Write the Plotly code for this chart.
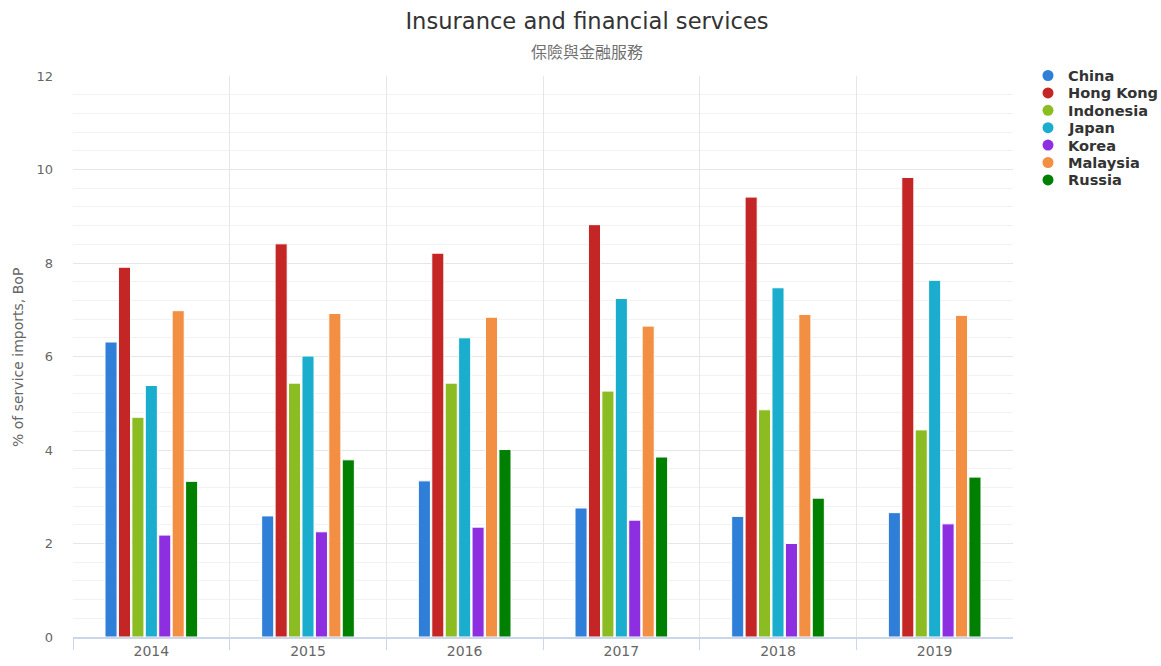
import plotly.graph_objects as go

years = ["2014", "2015", "2016", "2017", "2018", "2019"]
countries = ["China", "Hong Kong", "Indonesia", "Japan", "Korea", "Malaysia", "Russia"]
china = [6.31, 2.59, 3.34, 2.76, 2.58, 2.66]
hong_kong = [7.91, 8.41, 8.21, 8.82, 9.41, 9.83]
indonesia = [4.70, 5.43, 5.43, 5.26, 4.86, 4.43]
japan = [5.38, 6.01, 6.40, 7.24, 7.47, 7.63]
korea = [2.18, 2.25, 2.35, 2.50, 2.00, 2.42]
malaysia = [6.98, 6.92, 6.84, 6.65, 6.90, 6.88]
russia = [3.33, 3.79, 4.01, 3.85, 2.97, 3.42]
colors = ["#2f7ed8", "#c42525", "#8bbc21", "#1aadce", "#8d2ee0", "#f28f43", "#008000"]

series = [china, hong_kong, indonesia, japan, korea, malaysia, russia]

W, H = 1161, 666
font_family = "DejaVu Sans, Verdana, sans-serif"
cjk_family = "Noto Sans CJK TC, Noto Sans CJK SC, sans-serif"

def px(x):
    return x / W

def py(y):
    return (H - y) / H

fig = go.Figure()
for name, vals, col in zip(countries, series, colors):
    fig.add_trace(go.Bar(
        x=years, y=vals, name=name,
        marker=dict(color=col, line=dict(color="white", width=1)),
        showlegend=False,
    ))

# manual legend (circle markers + bold labels)
shapes = []
annotations = []
for i, (name, col) in enumerate(zip(countries, colors)):
    yc = 75.5 + 17.4 * i
    shapes.append(dict(
        type="circle", xref="paper", yref="paper",
        xsizemode="pixel", ysizemode="pixel",
        xanchor=px(1048), yanchor=py(yc),
        x0=-5.5, x1=5.5, y0=-5.5, y1=5.5,
        fillcolor=col, line=dict(color=col, width=0),
    ))
    annotations.append(dict(
        text=f"<b>{name}</b>", xref="paper", yref="paper",
        x=px(1066), y=py(yc), xanchor="left", yanchor="middle",
        showarrow=False, font=dict(family=font_family, size=14.6, color="#333333"),
    ))

annotations.append(dict(
    text="保險與金融服務", xref="paper", yref="paper",
    x=px(587), y=py(51), xanchor="center", yanchor="middle",
    showarrow=False, font=dict(family=cjk_family, size=16, color="#707070"),
))
annotations.append(dict(
    text="% of service imports, BoP", xref="paper", yref="paper",
    x=px(18), y=py(358), xanchor="center", yanchor="middle", textangle=-90,
    showarrow=False, font=dict(family=font_family, size=14, color="#666666"),
))

fig.update_layout(
    width=W, height=H,
    margin=dict(l=0, r=0, t=0, b=0),
    paper_bgcolor="white", plot_bgcolor="white",
    showlegend=False,
    barmode="group", bargap=0.40, bargroupgap=0.10,
    font=dict(family=font_family, color="#666666", size=13),
    title=dict(
        text="Insurance and financial services",
        x=px(587), xref="paper", xanchor="center",
        y=py(21), yref="container", yanchor="middle",
        font=dict(family=font_family, size=22.6, color="#333333"),
    ),
    shapes=shapes,
    annotations=annotations,
    xaxis=dict(
        domain=[px(73), px(1013)], automargin=False,
        type="category", tickson="boundaries", showgrid=True, gridcolor="#e6e6e6",
        ticks="outside", ticklen=11, tickcolor="#ccd6eb",
        showline=True, linecolor="#ccd6eb", linewidth=2,
        tickfont=dict(size=14, color="#666666"),
    ),
    yaxis=dict(
        domain=[1 - 637 / H, 1 - 76 / H], automargin=False,
        range=[0, 12], dtick=2, showgrid=True, gridcolor="#e6e6e6", gridwidth=1,
        zeroline=False, showline=False, ticks="", ticklabelstandoff=19,
        tickfont=dict(size=13, color="#666666"),
        minor=dict(dtick=0.4, showgrid=True, gridcolor="#f2f2f2", gridwidth=1),
    ),
)

fig.write_html(
    "out.html",
    config={"displayModeBar": False},
    post_script="document.body.style.margin='0';document.body.style.overflow='hidden';",
)
